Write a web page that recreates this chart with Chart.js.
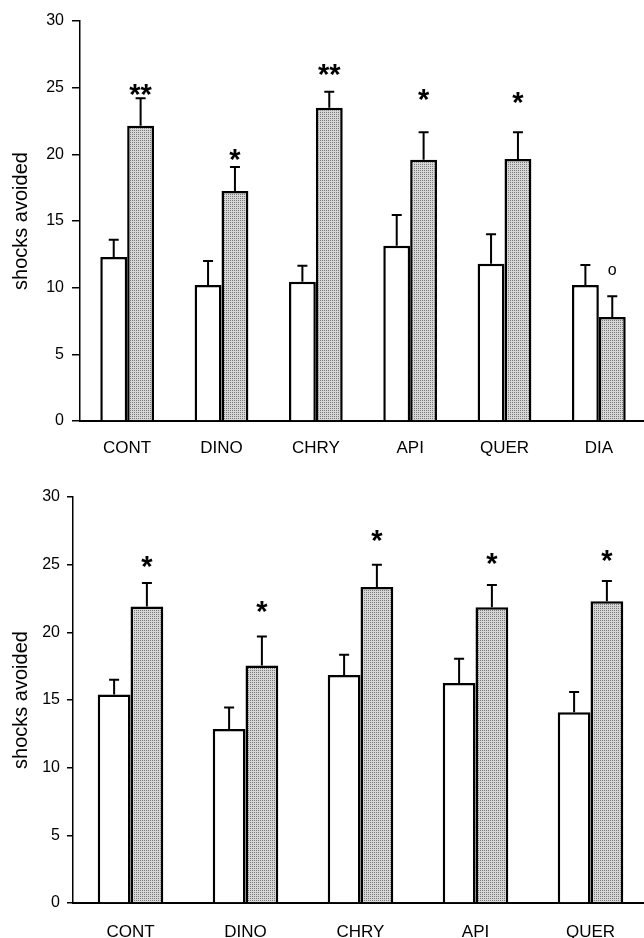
<!DOCTYPE html>
<html>
<head>
<meta charset="utf-8">
<script src="https://cdn.jsdelivr.net/npm/chart.js"></script>
<style>
  html, body { margin: 0; padding: 0; background: #fff; overflow: hidden; }
  .box { position: absolute; left: 0; width: 644px; overflow: hidden; }
  #box1 { top: 0; height: 465px; }
  #box2 { top: 470px; height: 468px; }
</style>
</head>
<body>
<div class="box" id="box1"><canvas id="top" width="646" height="465"></canvas></div>
<div class="box" id="box2"><canvas id="bottom" width="648" height="468"></canvas></div>
<script>
// top panel
const topLabels = ["CONT", "DINO", "CHRY", "API", "QUER", "DIA"];
const topWhite = [12.3, 10.2, 10.45, 13.15, 11.8, 10.2];
const topWhiteErr = [1.3, 1.8, 1.2, 2.3, 2.2, 1.5];
const topGrey = [22.15, 17.25, 23.5, 19.6, 19.65, 7.8];
const topGreyErr = [2.05, 1.8, 1.2, 2.05, 2.0, 1.55];
const topMarks = ["**", "*", "**", "*", "*", "o"];
const topMarkY = [25.05, 20.17, 26.6, 24.7, 24.5, 11.26];

// bottom panel
const botLabels = ["CONT", "DINO", "CHRY", "API", "QUER"];
const botWhite = [15.4, 12.85, 16.85, 16.25, 14.1];
const botWhiteErr = [1.1, 1.6, 1.5, 1.8, 1.5];
const botGrey = [21.9, 17.55, 23.35, 21.85, 22.3];
const botGreyErr = [1.75, 2.15, 1.65, 1.65, 1.5];
const botMarks = ["*", "*", "*", "*", "*"];
const botMarkY = [25.44, 22.1, 27.39, 25.66, 25.9];

const FONT = "'Liberation Sans', Arial, sans-serif";

// stipple fill for the grey bars
function stipple() {
  const c = document.createElement('canvas');
  c.width = 2; c.height = 2;
  const g = c.getContext('2d');
  g.fillStyle = '#d6d6d6'; g.fillRect(0, 0, 2, 2);
  g.fillStyle = '#7a7a7a'; g.fillRect(0, 0, 1, 1);
  return g.createPattern(c, 'repeat');
}

// error bars + significance marks
const extras = {
  id: 'extras',
  afterDatasetsDraw(chart, args, opts) {
    const ctx = chart.ctx;
    const y = chart.scales.y;
    ctx.save();
    ctx.strokeStyle = '#000';
    ctx.lineWidth = 2;
    chart.data.datasets.forEach((ds, di) => {
      const meta = chart.getDatasetMeta(di);
      meta.data.forEach((bar, i) => {
        const top = y.getPixelForValue(ds.data[i] + opts.errors[di][i]);
        ctx.beginPath();
        ctx.moveTo(bar.x, bar.y);
        ctx.lineTo(bar.x, top);
        ctx.moveTo(bar.x - 5, top);
        ctx.lineTo(bar.x + 5, top);
        ctx.stroke();
      });
    });
    const grey = chart.getDatasetMeta(1);
    ctx.fillStyle = '#000';
    ctx.textAlign = 'center';
    ctx.textBaseline = 'alphabetic';
    opts.marks.forEach((m, i) => {
      const x = grey.data[i].x;
      const cy = y.getPixelForValue(opts.markY[i]);
      if (m === 'o') {
        ctx.font = '16px ' + FONT;
        ctx.fillText(m, x, cy + 16 * 0.26);
      } else {
        ctx.font = 'bold 29px ' + FONT;
        ctx.fillText(m, x, cy + 29 * 0.6);
      }
    });
    ctx.restore();
  }
};

function makeChart(id, labels, white, grey, errs, marks, markY, cfg) {
  return new Chart(document.getElementById(id), {
    type: 'bar',
    data: {
      labels: labels,
      datasets: [
        { data: white, backgroundColor: '#fff', borderColor: '#000', borderWidth: 2.5,
          categoryPercentage: 0.57, barPercentage: 1 },
        { data: grey, backgroundColor: stipple(), borderColor: '#000', borderWidth: 2.5,
          categoryPercentage: 0.57, barPercentage: 1 }
      ]
    },
    options: {
      responsive: false,
      animation: false,
      layout: { padding: { top: cfg.top, left: 0, right: 0, bottom: 0 } },
      plugins: {
        legend: { display: false },
        tooltip: { enabled: false },
        extras: { errors: errs, marks: marks, markY: markY }
      },
      scales: {
        x: {
          grid: { display: false },
          border: { display: true, color: '#000', width: 2 },
          ticks: { color: '#000', padding: cfg.xPad, font: { family: FONT, size: 17 } },
          afterFit: (s) => { s.height = cfg.xHeight; }
        },
        y: {
          min: 0, max: 30,
          ticks: { stepSize: 5, color: '#000', padding: cfg.yPad, font: { family: FONT, size: 16 } },
          grid: { drawOnChartArea: false, drawTicks: true, tickLength: cfg.tick, color: '#000', lineWidth: 1.5 },
          border: { display: true, color: '#000', width: 1.5 },
          title: { display: true, text: 'shocks avoided', color: '#000',
                   font: { family: FONT, size: 20 }, padding: { top: 9, bottom: 0 } },
          afterFit: (s) => { s.width = cfg.yWidth; }
        }
      }
    },
    plugins: [extras]
  });
}

makeChart('top', topLabels, topWhite, topGrey, [topWhiteErr, topGreyErr], topMarks, topMarkY,
  { top: 21, xHeight: 44, xPad: 9, yWidth: 80, tick: 8, yPad: 8 });
makeChart('bottom', botLabels, botWhite, botGrey, [botWhiteErr, botGreyErr], botMarks, botMarkY,
  { top: 27, xHeight: 35, xPad: 11, yWidth: 73, tick: 6, yPad: 7 });
</script>
</body>
</html>
